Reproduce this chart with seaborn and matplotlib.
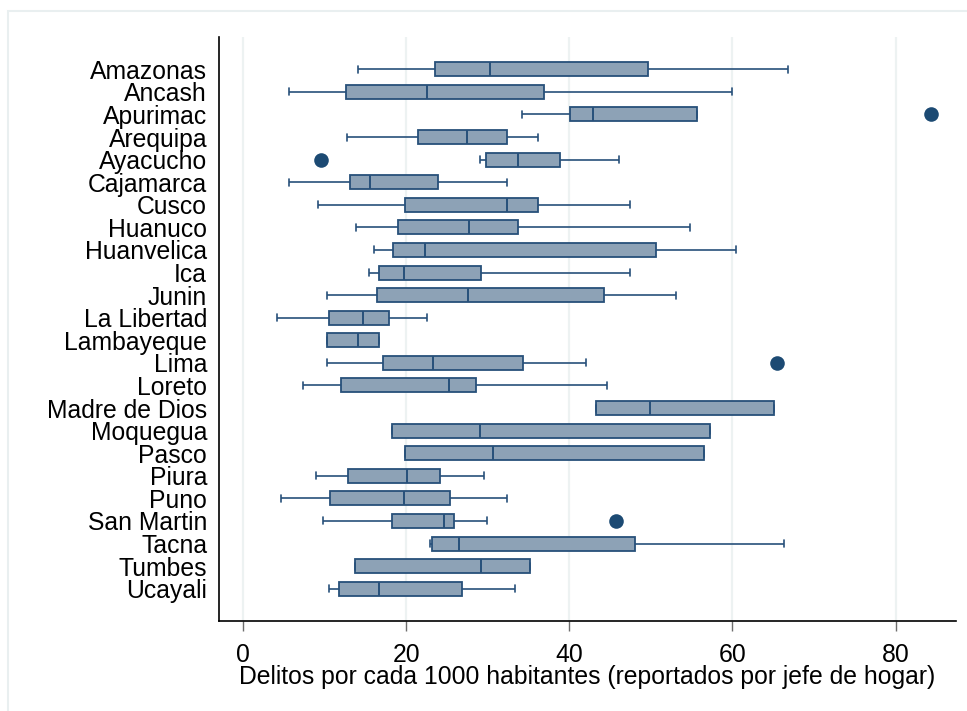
import numpy as np
import pandas as pd
import matplotlib
matplotlib.use("Agg")
import matplotlib.pyplot as plt
from matplotlib.patches import Rectangle
import seaborn as sns

# Resumen de cinco números por departamento
departamentos = ["Amazonas", "Ancash", "Apurimac", "Arequipa", "Ayacucho",
                 "Cajamarca", "Cusco", "Huanuco", "Huanvelica", "Ica", "Junin",
                 "La Libertad", "Lambayeque", "Lima", "Loreto", "Madre de Dios",
                 "Moquegua", "Pasco", "Piura", "Puno", "San Martin", "Tacna",
                 "Tumbes", "Ucayali"]
minimo  = [14.1, 5.6, 34.2, 12.8, 29.1, 5.6, 9.2, 13.9, 16.1, 15.4, 10.3, 4.1,
           10.3, 10.3, 7.3, 43.3, 18.2, 19.9, 9.0, 4.7, 9.85, 22.9, 13.7, 10.5]
q1      = [23.5, 12.6, 40.1, 21.4, 29.8, 13.1, 19.9, 19.0, 18.4, 16.7, 16.4, 10.5,
           10.3, 17.1, 12.0, 43.3, 18.2, 19.9, 12.9, 10.7, 18.2, 23.2, 13.7, 11.7]
mediana = [30.3, 22.6, 42.9, 27.4, 33.7, 15.6, 32.4, 27.7, 22.3, 19.7, 27.6, 14.7,
           14.1, 23.3, 25.2, 49.9, 29.0, 30.7, 20.1, 19.7, 24.6, 26.5, 29.2, 16.7]
q3      = [49.6, 36.9, 55.7, 32.4, 38.8, 23.9, 36.1, 33.7, 50.6, 29.2, 44.2, 17.9,
           16.7, 34.3, 28.6, 65.1, 57.2, 56.5, 24.1, 25.4, 25.9, 48.0, 35.2, 26.8]
maximo  = [66.8, 60.0, 55.7, 36.1, 46.1, 32.4, 47.4, 54.8, 60.4, 47.4, 53.1, 22.6,
           16.7, 42.0, 44.6, 65.1, 57.2, 56.5, 29.5, 32.4, 29.9, 66.3, 35.2, 33.3]

# Valores atípicos
atipicos_dep = ["Apurimac", "Ayacucho", "Lima", "San Martin"]
atipicos_val = [84.3, 9.6, 65.5, 45.7]

xticks = [0, 20, 40, 60, 80]
xlabel = "Delitos por cada 1000 habitantes (reportados por jefe de hogar)"

# Tabla larga: cada departamento aporta sus cinco cuantiles
filas = []
for i, dep in enumerate(departamentos):
    for v in (minimo[i], q1[i], mediana[i], q3[i], maximo[i]):
        filas.append((dep, v))
df = pd.DataFrame(filas, columns=["departamento", "tasa"])
df_out = pd.DataFrame({"departamento": atipicos_dep, "tasa": atipicos_val})

sns.set_theme(style="white")
plt.rcParams["font.family"] = ["Liberation Sans", "DejaVu Sans"]

fill = "#8DA2B6"
edge = "#27507A"
dot = "#1C4A73"
grid = "#EDF2F2"

fig = plt.figure(figsize=(9.67, 7.11), dpi=100)
ax = fig.add_axes([219 / 967, 1 - 621 / 711, (956 - 219) / 967, (621 - 37) / 711])

for t in xticks:
    ax.axvline(t, color=grid, lw=1.6, zorder=0)

line_kws = dict(color=edge, linewidth=1.2)
sns.boxplot(data=df, x="tasa", y="departamento", order=departamentos,
            orient="h", whis=(0, 100), width=0.62, ax=ax,
            boxprops=dict(facecolor=fill, edgecolor=edge, linewidth=1.3),
            medianprops=dict(color=edge, linewidth=1.4),
            whiskerprops=line_kws, capprops=line_kws, showfliers=False)

sns.stripplot(data=df_out, x="tasa", y="departamento", order=departamentos,
              orient="h", jitter=False, color=dot, size=10.5, ax=ax, zorder=5)

n = len(departamentos)
ax.set_ylim(n - 1 + 1.43, -1.43)
ax.set_xlim(-2.95, 87.4)
ax.set_xticks(xticks)
ax.set_ylabel("")
ax.set_xlabel(xlabel, fontsize=17.8, labelpad=-1, color="black")

ax.tick_params(axis="y", length=0, pad=8.5, labelsize=17.8, labelcolor="black")
ax.tick_params(axis="x", bottom=True, direction="out", length=7.5, width=1.0,
               color="#6E6E6E", pad=8, labelsize=17.8, labelcolor="black")

for side in ("top", "right"):
    ax.spines[side].set_visible(False)
for side in ("left", "bottom"):
    ax.spines[side].set_color("black")
    ax.spines[side].set_linewidth(1.2)

# Marco exterior claro del gráfico
fig.patches.append(Rectangle((8 / 967, -0.2), 1.2, 1.2 - 11 / 711,
                             transform=fig.transFigure, fill=False,
                             edgecolor="#E9EFF0", linewidth=1.5, zorder=0))

fig.savefig("out.png", dpi=100)
